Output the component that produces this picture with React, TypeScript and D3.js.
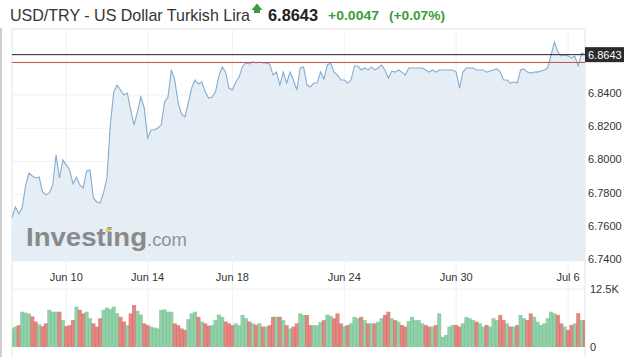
import React from "react";
import * as d3 from "d3";

// USD/TRY closing prices per bar (Jun 8 – Jul 6, 2020)
const closes: number[] = [
  6.7660, 6.7726, 6.7684, 6.7720, 6.7852, 6.7930, 6.7912, 6.7900, 6.7906, 6.7816,
  6.7798, 6.7810, 6.7858, 6.8039, 6.7900, 6.8009, 6.7979, 6.7949, 6.7864, 6.7906,
  6.7858, 6.7840, 6.7943, 6.7949, 6.7780, 6.7756, 6.7750, 6.7810, 6.7900, 6.8219,
  6.8418, 6.8460, 6.8430, 6.8400, 6.8412, 6.8310, 6.8219, 6.8298, 6.8388, 6.8322,
  6.8141, 6.8189, 6.8189, 6.8201, 6.8219, 6.8358, 6.8388, 6.8551, 6.8490, 6.8352,
  6.8286, 6.8268, 6.8352, 6.8442, 6.8490, 6.8466, 6.8478, 6.8418, 6.8382, 6.8388,
  6.8418, 6.8514, 6.8569, 6.8538, 6.8442, 6.8430, 6.8478, 6.8508, 6.8575, 6.8593,
  6.8587, 6.8599, 6.8593, 6.8599, 6.8593, 6.8593, 6.8587, 6.8520, 6.8538, 6.8460,
  6.8538, 6.8472, 6.8538, 6.8490, 6.8430, 6.8563, 6.8569, 6.8460, 6.8448, 6.8472,
  6.8472, 6.8538, 6.8496, 6.8581, 6.8593, 6.8538, 6.8520, 6.8490, 6.8490, 6.8472,
  6.8490, 6.8575, 6.8575, 6.8551, 6.8563, 6.8551, 6.8569, 6.8551, 6.8563, 6.8581,
  6.8551, 6.8502, 6.8544, 6.8538, 6.8551, 6.8538, 6.8520, 6.8563, 6.8563, 6.8563,
  6.8563, 6.8563, 6.8551, 6.8538, 6.8551, 6.8538, 6.8551, 6.8551, 6.8551, 6.8551,
  6.8551, 6.8538, 6.8442, 6.8538, 6.8563, 6.8563, 6.8563, 6.8551, 6.8551, 6.8551,
  6.8538, 6.8544, 6.8551, 6.8557, 6.8538, 6.8490, 6.8490, 6.8472, 6.8478, 6.8472,
  6.8551, 6.8557, 6.8538, 6.8532, 6.8538, 6.8538, 6.8544, 6.8551, 6.8563, 6.8641,
  6.8719, 6.8659, 6.8635, 6.8641, 6.8635, 6.8623, 6.8635, 6.8575, 6.8653, 6.8643,
];

// Volume per bar, in thousands
const volumes: number[] = [
  4.0, 4.4, 4.7, 7.6, 7.4, 7.2, 6.6, 5.5, 4.9, 4.5,
  5.1, 8.0, 7.6, 7.6, 7.6, 5.8, 4.5, 4.7, 5.8, 8.7,
  8.0, 7.25, 7.6, 6.2, 5.1, 4.4, 6.2, 8.0, 8.5, 8.2,
  8.7, 7.3, 6.5, 5.5, 4.7, 7.25, 9.05, 7.8, 7.0, 5.1,
  4.7, 4.4, 4.2, 4.0, 8.0, 8.1, 7.6, 7.6, 5.1, 4.7,
  4.0, 3.7, 6.0, 7.25, 7.6, 6.5, 5.5, 5.1, 4.6, 4.7,
  5.8, 7.0, 6.5, 5.5, 5.1, 4.7, 5.1, 4.7, 6.9, 6.2,
  5.5, 5.1, 4.8, 5.1, 4.4, 4.4, 4.7, 6.5, 6.5, 6.5,
  5.8, 4.7, 4.0, 4.4, 5.1, 7.25, 6.9, 6.9, 4.7, 4.7,
  4.7, 5.4, 5.8, 7.0, 6.7, 6.2, 7.25, 5.1, 4.5, 4.7,
  5.1, 6.5, 6.2, 6.5, 5.8, 5.1, 5.1, 5.1, 5.45, 6.2,
  6.9, 7.6, 6.2, 5.8, 5.45, 4.74, 4.4, 5.6, 6.5, 5.8,
  5.8, 5.1, 4.74, 4.4, 4.4, 4.74, 7.25, 2.2, 2.6, 4.4,
  4.74, 4.74, 4.4, 5.1, 6.5, 6.2, 5.8, 5.45, 5.1, 4.4,
  4.74, 4.4, 6.2, 5.8, 6.9, 5.8, 5.1, 4.4, 4.4, 4.74,
  6.9, 6.2, 5.8, 7.25, 6.5, 5.45, 4.74, 5.1, 6.2, 7.6,
  7.25, 6.9, 5.1, 4.4, 3.66, 4.74, 5.1, 7.3, 5.8, 5.8,
];

// Date labels and the bar that opens each of those dates
const tickLabels: string[] = ["Jun 10", "Jun 14", "Jun 18", "Jun 24", "Jun 30", "Jul 6"];
const tickBars: number[] = [16, 40, 65, 98, 131, 164];

const priceTicks: number[] = [6.84, 6.82, 6.8, 6.78, 6.76, 6.74];
const volumeTicks: number[] = [12.5, 0];
const volumeTickLabels: string[] = ["12.5K", "0"];

const lastPrice = 6.8643;
const prevClose = 6.8596;
const change = "+0.0047";
const changePct = "(+0.07%)";
const title = "USD/TRY - US Dollar Turkish Lira";

const W = 631;
const H = 357;
const left = 12;
const right = 585;
const top = 29;
const FONT = "Arial, 'Liberation Sans', Helvetica, sans-serif";

export default function App() {
  const n = closes.length;
  const x = d3.scaleLinear().domain([0, n - 1]).range([left, right]);
  const y = d3.scaleLinear().domain([6.74, 6.84]).range([261, 95]);
  const yv = d3.scaleLinear().domain([0, 12.5]).range([347, 289]);
  const step = x(1) - x(0);

  const line = d3
    .line<number>()
    .x((_, i) => x(i))
    .y((d) => y(d));
  const area = d3
    .area<number>()
    .x((_, i) => x(i))
    .y0(y(6.74))
    .y1((d) => y(d));

  const gridColor = "#eef0f2";

  return (
    <svg
      width={W}
      height={H}
      style={{ position: "absolute", left: 0, top: 0, background: "#fff" }}
      fontFamily={FONT}
    >
      <defs>
        <clipPath id="plotClip">
          <rect x={left} y={top} width={right - left} height={H - top} />
        </clipPath>
      </defs>

      {/* page edge */}
      <rect x={0} y={28} width={2} height={H - 28} fill="#cfcfcf" />

      {/* header */}
      <text x={10} y={21} fontSize={17} fill="#333" textLength={240} lengthAdjust="spacingAndGlyphs">
        {title}
      </text>
      <path d="M254,13 L260,13 L260,10 L262.5,10 L257,3.5 L251.5,10 L254,10 Z" fill="#3a9d3a" />
      <text x={268} y={21} fontSize={16} fontWeight="bold" fill="#222" textLength={50} lengthAdjust="spacingAndGlyphs">
        {lastPrice.toFixed(4)}
      </text>
      <text x={328} y={20} fontSize={13} fontWeight="bold" fill="#3a9d3a" textLength={51} lengthAdjust="spacingAndGlyphs">
        {change}
      </text>
      <text x={389} y={20} fontSize={13} fontWeight="bold" fill="#3a9d3a" textLength={56} lengthAdjust="spacingAndGlyphs">
        {changePct}
      </text>

      {/* chart frame */}
      <rect x={left} y={top} width={right - left} height={H - top + 2} fill="none" stroke="#e3e3e3" />

      {/* price area */}
      <path d={area(closes) ?? ""} fill="#e6eef5" clipPath="url(#plotClip)" />

      {/* grid */}
      {priceTicks.map((t) => (
        <line key={t} x1={left} x2={right} y1={y(t)} y2={y(t)} stroke={gridColor} strokeOpacity={0.9} />
      ))}
      <line x1={left} x2={right} y1={yv(12.5)} y2={yv(12.5)} stroke={gridColor} />
      {tickBars.map((b) => (
        <line key={b} x1={x(b)} x2={x(b)} y1={top} y2={347} stroke={gridColor} strokeOpacity={0.9} />
      ))}

      <path d={line(closes) ?? ""} fill="none" stroke="#86acd0" strokeWidth={1.1} clipPath="url(#plotClip)" />

      {/* last price and previous close */}
      <line x1={left} x2={right} y1={y(lastPrice)} y2={y(lastPrice)} stroke="#222" strokeWidth={1} />
      <line x1={left} x2={right} y1={y(prevClose)} y2={y(prevClose)} stroke="#c0504d" strokeWidth={1} />

      {/* watermark */}
      <g opacity={0.9}>
        <text x={26} y={246} fontSize={26} fontWeight="bold" fill="#808080" textLength={121} lengthAdjust="spacingAndGlyphs">
          Investing
        </text>
        <rect x={106} y={228} width={5} height={1.5} fill="#e0b43c" />
        <rect x={106} y={230.5} width={5} height={1.5} fill="#e0b43c" />
        <text x={147} y={246} fontSize={19} fill="#8a8a8a" textLength={40} lengthAdjust="spacingAndGlyphs">
          .com
        </text>
      </g>

      {/* price axis */}
      {priceTicks.map((t) => (
        <text key={t} x={588} y={y(t) + 2} fontSize={11} fill="#333">
          {t.toFixed(4)}
        </text>
      ))}
      <rect x={585} y={y(lastPrice) - 7.5} width={39} height={15} fill="#2b2b2b" />
      <text x={588} y={y(lastPrice) + 4} fontSize={11} fill="#fff">
        {lastPrice.toFixed(4)}
      </text>

      {/* date axis */}
      {tickBars.map((b, i) => (
        <text key={b} x={x(b)} y={281} fontSize={11} fill="#333" textAnchor="middle">
          {tickLabels[i]}
        </text>
      ))}

      {/* volume */}
      <g clipPath="url(#plotClip)">
        {volumes.map((v, i) => {
          const up = i === 0 ? true : closes[i] >= closes[i - 1];
          return (
            <rect
              key={i}
              x={x(i) - step * 0.6}
              y={yv(v)}
              width={step * 1.2}
              height={yv(0) - yv(v)}
              fill={up ? "#6cc08c" : "#d95f58"}
              fillOpacity={0.75}
            />
          );
        })}
      </g>
      {volumeTicks.map((t, i) => (
        <text key={t} x={590} y={yv(t) + 4} fontSize={11} fill="#333">
          {volumeTickLabels[i]}
        </text>
      ))}
    </svg>
  );
}
